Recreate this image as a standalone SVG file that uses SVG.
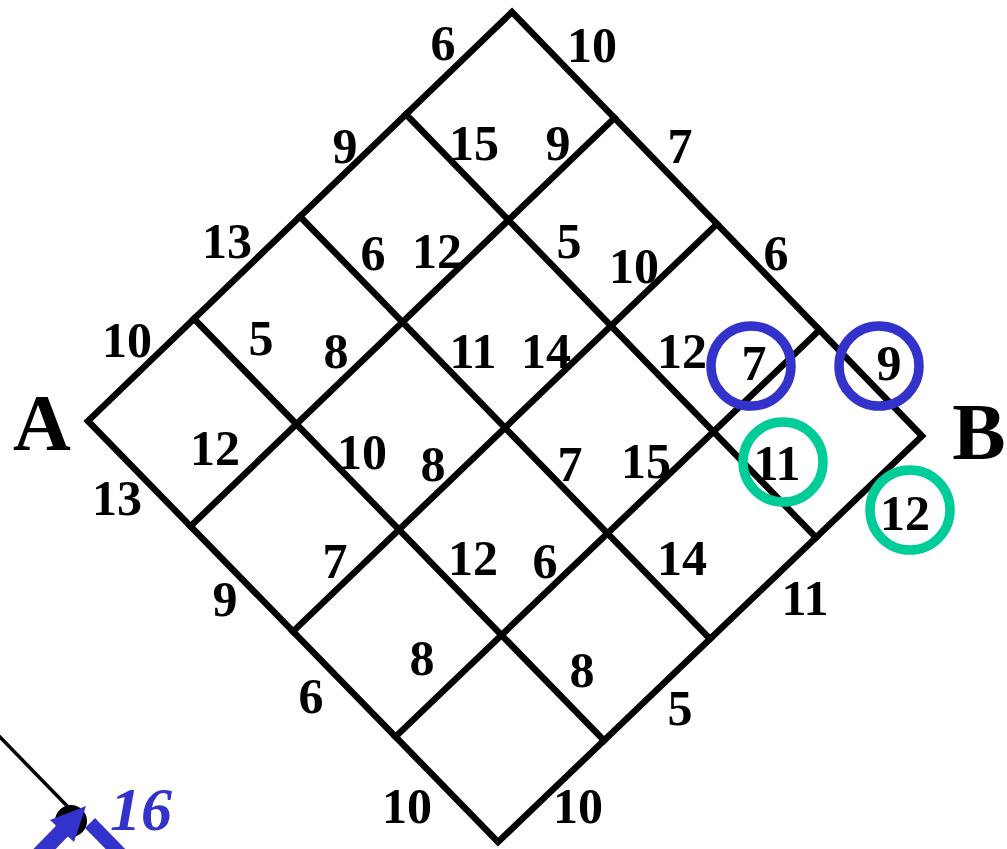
<svg xmlns="http://www.w3.org/2000/svg" width="1007" height="849" viewBox="0 0 1007 849">
<style>
.g{stroke:#000;stroke-width:6.5;fill:none;stroke-linecap:square;stroke-linejoin:miter}
.l{font-family:"Liberation Serif","Times New Roman",serif;font-weight:bold;font-size:50px;fill:#000;text-anchor:middle}
.big{font-family:"Liberation Serif","Times New Roman",serif;font-weight:bold;font-size:80px;fill:#000;text-anchor:middle}
.cb{fill:none;stroke:#3333CC;stroke-width:9.5}
.cg{fill:none;stroke:#00CC99;stroke-width:9.5}
</style>
<rect width="1007" height="849" fill="#fff"/>
<g id="connectors">
<polygon class="g" points="88,421 512,12 922,436 498,842"/>
<line class="g" x1="194" y1="318.75" x2="604" y2="740.5"/>
<line class="g" x1="300" y1="216.5" x2="710" y2="639"/>
<line class="g" x1="406" y1="114.25" x2="816" y2="537.5"/>
<line class="g" x1="190.5" y1="526.25" x2="614.5" y2="118"/>
<line class="g" x1="293" y1="631.5" x2="717" y2="224"/>
<line class="g" x1="395.5" y1="736.75" x2="819.5" y2="330"/>
</g>
<g id="highlights">
<circle class="cb" cx="751" cy="366" r="40"/>
<circle class="cb" cx="879" cy="366" r="40"/>
<circle class="cg" cx="783" cy="462" r="40"/>
<circle class="cg" cx="910" cy="510" r="40"/>
</g>
<g id="node-A"><text class="big" x="42" y="450">A</text></g>
<g id="node-B"><text class="big" x="979" y="459">B</text></g>
<g id="edge-labels">
<text class="l" x="443" y="60">6</text>
<text class="l" x="345" y="163">9</text>
<text class="l" x="227" y="258">13</text>
<text class="l" x="127" y="357">10</text>
<text class="l" x="592" y="62">10</text>
<text class="l" x="680" y="163">7</text>
<text class="l" x="776" y="270">6</text>
<text class="l" x="117" y="515">13</text>
<text class="l" x="225" y="616">9</text>
<text class="l" x="311" y="713">6</text>
<text class="l" x="407" y="823">10</text>
<text class="l" x="805" y="615">11</text>
<text class="l" x="680" y="725">5</text>
<text class="l" x="578" y="823">10</text>
<text class="l" x="474" y="160">15</text>
<text class="l" x="558" y="160">9</text>
<text class="l" x="373" y="270">6</text>
<text class="l" x="437" y="268">12</text>
<text class="l" x="569" y="258">5</text>
<text class="l" x="634" y="283">10</text>
<text class="l" x="261" y="355">5</text>
<text class="l" x="336" y="368">8</text>
<text class="l" x="473" y="368">11</text>
<text class="l" x="546" y="368">14</text>
<text class="l" x="682" y="368">12</text>
<text class="l" x="754" y="380">7</text>
<text class="l" x="889" y="380">9</text>
<text class="l" x="215" y="465">12</text>
<text class="l" x="362" y="469">10</text>
<text class="l" x="433" y="481">8</text>
<text class="l" x="570" y="481">7</text>
<text class="l" x="646" y="478">15</text>
<text class="l" x="777" y="480">11</text>
<text class="l" x="905" y="530">12</text>
<text class="l" x="335" y="578">7</text>
<text class="l" x="473" y="575">12</text>
<text class="l" x="545" y="578">6</text>
<text class="l" x="682" y="575">14</text>
<text class="l" x="422" y="675">8</text>
<text class="l" x="582" y="687">8</text>
</g>
<g id="partial-arrow">
<line x1="-2" y1="735" x2="70" y2="809" stroke="#000" stroke-width="3.5"/>
<circle cx="71" cy="821" r="16" fill="#000"/>
<line x1="28" y1="866" x2="64" y2="829" stroke="#3333CC" stroke-width="16"/>
<polygon points="86,806 50,820 74,842" fill="#3333CC"/>
<line x1="90" y1="823" x2="130" y2="864" stroke="#3333CC" stroke-width="14"/>
<text x="141" y="830" font-family="Liberation Serif, Times New Roman, serif" font-weight="bold" font-style="italic" font-size="62" fill="#3333CC" text-anchor="middle">16</text>
</g>
</svg>
